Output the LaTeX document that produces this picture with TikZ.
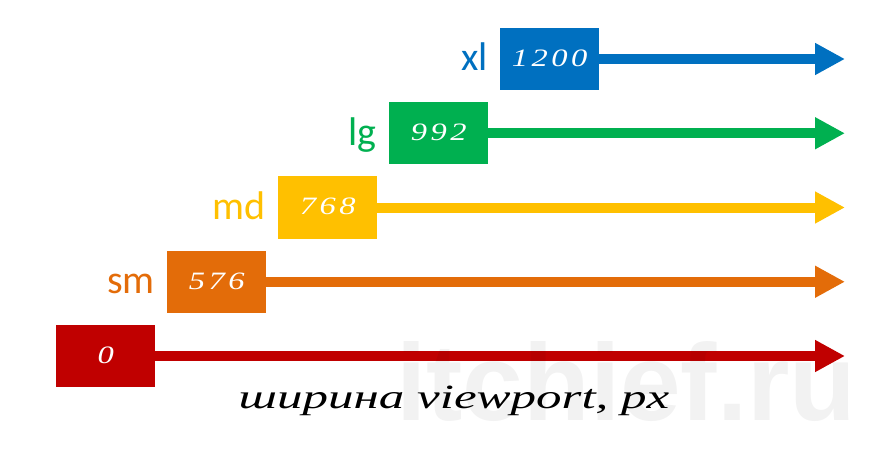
\documentclass[tikz,border=0pt]{standalone}
\usepackage{fontspec}
\usetikzlibrary{arrows.meta}
\newfontfamily\labelfont{Carlito}
\newfontfamily\digitfont[FakeStretch=1.3, LetterSpace=14]{Liberation Serif}
\newfontfamily\captionfont[FakeStretch=1.5]{Liberation Serif}
\newfontfamily\markfont{Liberation Sans}

\definecolor{bpred}{HTML}{C00000}
\definecolor{bporange}{HTML}{E36C09}
\definecolor{bpyellow}{HTML}{FFC000}
\definecolor{bpgreen}{HTML}{00B050}
\definecolor{bpblue}{HTML}{0070C0}

\tikzset{
  valbox/.style={rectangle, anchor=west, minimum width=99pt, minimum height=62pt,
    inner sep=0pt, text=white, font=\digitfont\itshape\fontsize{25}{25}\selectfont},
  bparrow/.style={line width=10pt, -{Triangle[length=30pt, width=30pt]}},
  bplabel/.style={anchor=base east, inner sep=0pt, font=\labelfont\fontsize{40}{40}\selectfont}
}

\begin{document}
\begin{tikzpicture}[x=1pt, y=-1pt]

            \def \tipx {845}
            \def \rowgap {74.25}
            \def \colgap {111}

            \useasboundingbox (0,0) rectangle (880,449);

            % breakpoints, from 0 upwards
            \foreach \val/\col [count=\i from 0] in {0/bpred, 576/bporange, 768/bpyellow, 992/bpgreen, 1200/bpblue}
            {
              \node[valbox, fill=\col] (box\i) at ({56 + \colgap*\i}, {356 - \rowgap*\i}) {\raisebox{2pt}{\val}};
              \coordinate (tip\i) at (\tipx, {356 - \rowgap*\i});
              \draw[bparrow, draw=\col] (box\i.east) -- (tip\i);
            }

            \foreach \lbl/\col [count=\i] in {sm/bporange, md/bpyellow, lg/bpgreen, xl/bpblue}
            {
              \node[bplabel, text=\col] (lbl\i) at ([xshift=-12pt, yshift=-12pt]box\i.west) {\lbl};
            }

            \node[anchor=base, inner sep=0pt, font=\captionfont\itshape\fontsize{34}{34}\selectfont]
              (axis) at (454, 408) {ширина viewport, px};

            % watermark
            \node[anchor=base west, inner sep=0pt, text=black, opacity=0.05,
              font=\markfont\bfseries\fontsize{109}{109}\selectfont] (mark) at (396, 420) {itchief.ru};
            \end{tikzpicture}
\end{document}
